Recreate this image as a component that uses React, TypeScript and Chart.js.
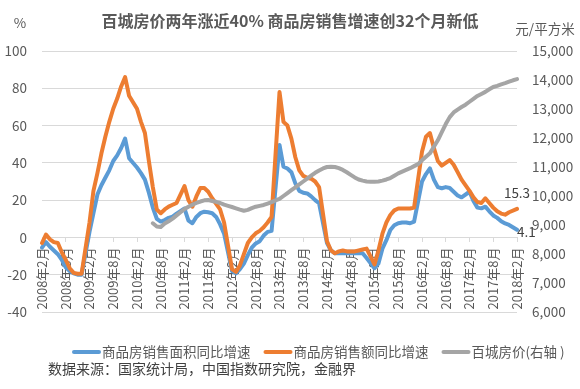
import { useEffect, useRef } from 'react';
import { Chart, registerables } from 'chart.js';

Chart.register(...registerables);

const FONT = '"Noto Sans CJK SC", "Noto Sans", sans-serif';
const TEXT = '#595959';

const TITLE = '百城房价两年涨近40% 商品房销售增速创32个月新低';
const LEFT_UNIT = '%';
const RIGHT_UNIT = '元/平方米';
const SOURCE = '数据来源：国家统计局，中国指数研究院，金融界';
const SERIES_NAMES = ['商品房销售面积同比增速', '商品房销售额同比增速', '百城房价(右轴 )'];
const SERIES_COLORS = ['#5B9BD5', '#ED7D31', '#A5A5A5'];

// monthly categories 2008年2月 ... 2018年2月
const categories: string[] = [];
for (let k = 0; k < 121; k++) {
  const t = 1 + k;
  categories.push(`${2008 + Math.floor(t / 12)}年${(t % 12) + 1}月`);
}

// rows: Feb ... Dec, Jan (January not published -> null)
const areaGrowth: (number | null)[] = [
  -5.5, -2.5, -5, -7, -9, -12, -16, -18, -19.3, -20, -20, null,
  3, 13, 23, 28, 32, 36, 41, 44, 48, 53, 42.5, null,
  37.5, 34.5, 31, 24, 16, 10, 8.5, 9.3, 10.5, 11.2, 12.8, null,
  15.5, 9, 7.6, 11, 13, 13.8, 13.5, 13, 11, 7, 2, null,
  -18, -19.3, -17, -14, -9.5, -5.5, -3.2, -2, 1, 3, 3.5, null,
  49.6, 38, 37, 35, 29, 25, 24, 23.6, 22, 20, 18.3, null,
  -3, -7, -8.5, -8.5, -8.5, -8.5, -8.5, -8.5, -8.5, -8.5, -11, null,
  -16.5, -14, -6, -1.5, 4, 6.5, 7.6, 8, 8, 7.6, 8.5, null,
  30, 34, 37, 31, 27, 26.4, 27, 26.5, 24.5, 22.5, 21.5, null,
  24.5, 19.5, 16, 15.6, 16.5, 14, 11.8, 10.5, 8.7, 7.5, 6.7, null,
  4.1,
];

const amountGrowth: (number | null)[] = [
  -3, 1.5, -1, -2.5, -3, -8, -12, -16.5, -19, -19.5, -19.5, null,
  8, 25, 34.5, 45, 54, 62, 69, 74.5, 81, 86, 76, null,
  69, 62, 56, 41, 27, 15, 13, 15, 16.5, 17.5, 18.5, null,
  27.5, 20, 16.5, 22, 26.5, 26.5, 24.5, 21, 18, 15, 8, null,
  -17, -18.5, -15, -9, -3, 0, 2.2, 3.5, 5.5, 8, 11, null,
  78, 62, 60, 53, 43, 36, 33, 32, 31.5, 30, 27, null,
  -2, -7, -8.5, -7.5, -7, -7.5, -7.5, -7.5, -7, -6.5, -6, null,
  -14.5, -7, 2, 8, 12, 14.5, 15.5, 15.5, 15.5, 15.5, 16, null,
  46, 54, 56, 48, 41, 38.5, 40, 41.5, 39, 35, 31, null,
  25, 21.5, 19, 18.5, 21, 18.5, 16, 14, 12.8, 12.2, 13.5, null,
  15.3,
];

const priceIndex: (number | null)[] = [
  null, null, null, null, null, null, null, null, null, null, null, null,
  null, null, null, null, null, null, null, null, null, null, null, null,
  null, null, null, null, 9060, 8950, 8930, 9050, 9130, 9220, 9330, 9440,
  9550, 9630, 9700, 9760, 9810, 9850, 9860, 9830, 9800, 9760, 9700, 9660,
  9620, 9575, 9530, 9490, 9520, 9580, 9630, 9660, 9690, 9740, 9790, 9850,
  9900, 10000, 10100, 10200, 10300, 10400, 10500, 10600, 10700, 10800, 10880, 10950,
  11000, 11010, 11000, 10960, 10900, 10820, 10730, 10640, 10570, 10530, 10500, 10490,
  10490, 10500, 10530, 10570, 10620, 10700, 10780, 10840, 10900, 10960, 11030, 11100,
  11230, 11350, 11470, 11700, 11920, 12200, 12480, 12720, 12880, 12980, 13070, 13150,
  13250, 13350, 13450, 13520, 13590, 13680, 13760, 13800, 13850, 13890, 13940, 13990,
  14030,
];

const overlay = {
  id: 'overlay',
  afterDraw(chart: any) {
    const ctx = chart.ctx as CanvasRenderingContext2D;
    ctx.save();
    ctx.textBaseline = 'middle';
    ctx.fillStyle = TEXT;
    ctx.textAlign = 'center';
    ctx.font = `bold 16px ${FONT}`;
    ctx.fillText(TITLE, 290, 21);
    ctx.font = `13.5px ${FONT}`;
    ctx.fillText(LEFT_UNIT, 20, 23);
    ctx.fillText(RIGHT_UNIT, 545, 29);

    // data labels on last points
    ctx.fillStyle = '#404040';
    const m1 = chart.getDatasetMeta(1);
    const p1 = m1.data[m1.data.length - 1];
    ctx.textAlign = 'center';
    ctx.fillText(String(amountGrowth[amountGrowth.length - 1]), p1.x, p1.y - 16);
    const m0 = chart.getDatasetMeta(0);
    const p0 = m0.data[m0.data.length - 1];
    ctx.textAlign = 'left';
    ctx.fillText(String(areaGrowth[areaGrowth.length - 1]), p0.x, p0.y + 2);

    // legend
    ctx.font = `13.5px ${FONT}`;
    ctx.fillStyle = TEXT;
    let x = 72;
    const ly = 352;
    SERIES_NAMES.forEach((name, i) => {
      ctx.strokeStyle = SERIES_COLORS[i];
      ctx.lineWidth = 4;
      ctx.lineCap = 'round';
      ctx.beginPath();
      ctx.moveTo(x + 2, ly);
      ctx.lineTo(x + 27, ly);
      ctx.stroke();
      ctx.textAlign = 'left';
      ctx.fillText(name, x + 30, ly);
      x += 30 + ctx.measureText(name).width + 13;
    });

    // source
    ctx.font = `14px ${FONT}`;
    ctx.fillStyle = '#404040';
    ctx.textAlign = 'left';
    ctx.fillText(SOURCE, 48, 369);
    ctx.restore();
  },
};

export default function App() {
  const ref = useRef<HTMLCanvasElement>(null);
  useEffect(() => {
    document.body.style.margin = '0';
    const line = (i: number, data: (number | null)[], axis: string, order: number) => ({
      label: SERIES_NAMES[i],
      data,
      yAxisID: axis,
      borderColor: SERIES_COLORS[i],
      backgroundColor: SERIES_COLORS[i],
      borderWidth: 4,
      pointRadius: 0,
      tension: 0,
      spanGaps: true,
      borderJoinStyle: 'round' as const,
      borderCapStyle: 'round' as const,
      order,
    });
    const chart = new Chart(ref.current!, {
      type: 'line',
      data: {
        labels: categories,
        datasets: [
          line(0, areaGrowth, 'y', 3),
          line(1, amountGrowth, 'y', 2),
          line(2, priceIndex, 'y1', 1),
        ],
      },
      options: {
        responsive: false,
        animation: false,
        layout: { padding: { top: 51, bottom: 77, left: 0, right: 0 } },
        plugins: {
          legend: { display: false },
          title: { display: false },
          tooltip: { enabled: false },
        },
        scales: {
          x: {
            type: 'category',
            position: { y: 0 } as any,
            grid: {
              display: true,
              drawOnChartArea: false,
              drawTicks: true,
              tickLength: 4,
              color: (c: any) => (c.index % 6 === 0 ? '#D9D9D9' : 'rgba(0,0,0,0)'),
            },
            border: { display: true, color: '#D9D9D9' },
            ticks: {
              autoSkip: false,
              minRotation: 90,
              maxRotation: 90,
              padding: 6,
              color: TEXT,
              font: { family: FONT, size: 13 },
              callback: (_v: any, i: number) => (i % 6 === 0 ? categories[i] : ''),
            },
          },
          y: {
            position: 'left',
            min: -40,
            max: 100,
            ticks: { stepSize: 20, padding: 15, color: TEXT, font: { family: FONT, size: 13.5 } },
            grid: { color: '#D9D9D9', drawTicks: false },
            border: { display: false },
            afterFit: (s: any) => {
              s.width = 42;
            },
          },
          y1: {
            position: 'right',
            min: 6000,
            max: 15000,
            ticks: { stepSize: 1000, padding: 15, color: TEXT, font: { family: FONT, size: 13.5 } },
            grid: { drawOnChartArea: false, drawTicks: false },
            border: { display: false },
            afterFit: (s: any) => {
              s.width = 63;
            },
          },
        },
      },
      plugins: [overlay],
    });
    return () => chart.destroy();
  }, []);
  return (
    <div style={{ width: 580, height: 389, background: '#fff' }}>
      <canvas ref={ref} width={580} height={389} style={{ display: 'block' }} />
    </div>
  );
}
